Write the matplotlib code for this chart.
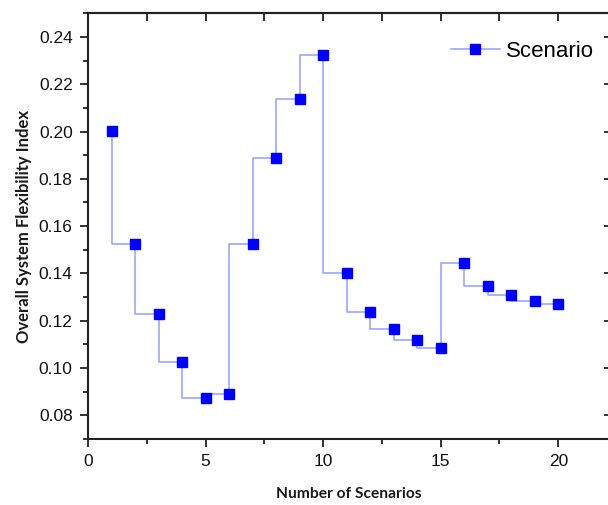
import matplotlib
matplotlib.use('Agg')
import matplotlib.pyplot as plt
from matplotlib.ticker import MultipleLocator, FormatStrFormatter

scenarios = list(range(1, 21))
flex_index = [0.2002, 0.1523, 0.1229, 0.1024, 0.0873, 0.0892, 0.1523, 0.1889,
              0.2136, 0.2322, 0.1401, 0.1239, 0.1164, 0.1117, 0.1085, 0.1443,
              0.1347, 0.1307, 0.1283, 0.1269]

plt.rcParams['font.family'] = ['Liberation Sans', 'DejaVu Sans']

fig = plt.figure(figsize=(6.08, 5.05), dpi=100)
ax = fig.add_axes([88 / 608, 66 / 505, 522 / 608, 425.7 / 505])

# step line (light blue) with solid blue square markers
ax.plot(scenarios, flex_index, drawstyle='steps-pre', color='#8fa0ff', lw=1.1,
        marker='s', markersize=7, markerfacecolor='#0000ff',
        markeredgecolor='#0000ff', label='Scenario')

ax.set_xlim(0, 22.2)
ax.set_ylim(0.07, 0.25)
ax.xaxis.set_major_locator(MultipleLocator(5))
ax.xaxis.set_minor_locator(MultipleLocator(2.5))
ax.yaxis.set_major_locator(MultipleLocator(0.02))
ax.yaxis.set_minor_locator(MultipleLocator(0.01))
ax.yaxis.set_major_formatter(FormatStrFormatter('%.2f'))

for s in ax.spines.values():
    s.set_linewidth(1.5)
    s.set_color('#222222')

ax.tick_params(which='both', direction='out', labelsize=12.5, width=1.3,
               top=False, right=False, colors='#222222', labelcolor='#111111')
ax.tick_params(which='major', length=6, pad=5)
ax.tick_params(which='minor', length=3.5)

# mirrored inward ticks on top/right like the original
sx = ax.secondary_xaxis('top')
sx.xaxis.set_major_locator(MultipleLocator(2.5))
sx.tick_params(direction='in', length=6, width=1.3, labeltop=False, colors='#222222')
sx.spines['top'].set_linewidth(1.5)
sy = ax.secondary_yaxis('right')
sy.yaxis.set_major_locator(MultipleLocator(0.02))
sy.tick_params(direction='in', length=4, width=1.3, labelright=False, colors='#222222')

ax.set_xlabel('Number of Scenarios', family=['Lato', 'DejaVu Sans'],
              fontweight='bold', fontsize=11.2, color='#1a1a1a', labelpad=13)
ax.set_ylabel('Overall System Flexibility Index', family=['Lato', 'DejaVu Sans'],
              fontweight='bold', fontsize=12, color='#1a1a1a', labelpad=5)

ax.legend(loc='upper right', bbox_to_anchor=(1.0, 0.971), frameon=False,
          fontsize=16, handlelength=2.2, handletextpad=0.3, borderaxespad=0.3)

fig.savefig('out.png', dpi=100)
